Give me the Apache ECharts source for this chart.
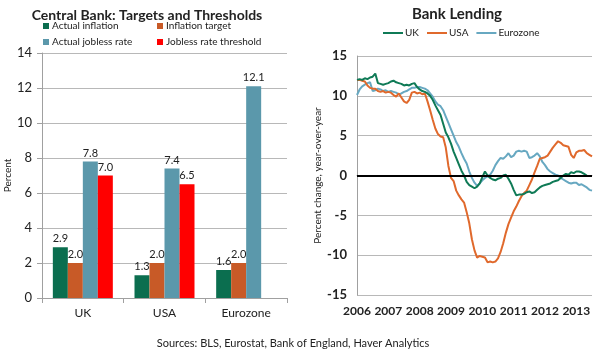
<!DOCTYPE html>
<html><head><meta charset="utf-8">
<script src="https://cdn.jsdelivr.net/npm/echarts@6/dist/echarts.min.js"></script>
<style>html,body{margin:0;padding:0;background:#fff}#c{width:600px;height:350px}</style>
</head><body><div id="c"></div>
<script>
var barCategories = ['UK', 'USA', 'Eurozone'];
var actualInflation = [2.9, 1.3, 1.6];
var inflationTarget = [2.0, 2.0, 2.0];
var actualJobless = [7.8, 7.4, 12.1];
var joblessThreshold = [7.0, 6.5, null];

var yearLabels = ['2006','2007','2008','2009','2010','2011','2012','2013'];
var months = [];
yearLabels.forEach(function(y){ for (var m=1;m<=12;m++){ months.push(y + '-' + (m<10?'0':'') + m); } });
months = months.slice(0, 91);

var ukLending = [12.0,12.1,12.0,12.2,12.1,12.3,12.4,12.8,11.6,11.5,11.4,11.5,
  11.6,11.8,11.9,11.7,11.6,11.5,11.3,11.4,11.3,11.5,11.6,11.1,
  10.8,10.6,10.5,10.3,10.0,9.5,8.8,8.2,7.6,6.5,5.4,4.8,
  4.0,3.0,2.2,1.4,0.6,0.0,-0.8,-1.2,-1.4,-1.6,-1.4,-1.0,
  -0.2,0.5,0.0,-0.3,-0.5,-0.6,-0.4,-0.3,0.0,0.1,-0.4,-1.0,
  -1.8,-2.5,-2.4,-2.4,-2.3,-2.1,-2.0,-2.2,-2.1,-1.8,-1.5,-1.3,
  -1.2,-1.1,-1.0,-0.8,-0.7,-0.6,-0.3,0.0,0.2,0.1,0.4,0.3,
  0.5,0.5,0.4,0.2,0.0];
var usaLending = [12.0,12.0,11.9,11.8,11.3,11.0,10.9,10.9,10.6,10.5,10.6,10.4,
  10.5,10.4,10.1,9.9,10.3,9.8,9.3,9.1,9.5,10.4,10.5,10.3,
  10.4,10.2,10.3,9.3,8.2,7.0,5.9,5.2,4.9,4.8,3.5,1.2,
  -0.3,-0.7,-1.9,-2.5,-3.0,-3.4,-4.6,-6.0,-8.0,-9.4,-10.3,-10.1,
  -10.2,-10.3,-10.9,-10.8,-10.9,-10.8,-10.4,-9.6,-8.5,-7.2,-6.1,-5.3,
  -4.5,-3.9,-3.2,-2.6,-2.2,-1.9,-1.2,-0.5,0.4,1.2,2.1,2.2,
  2.3,2.5,3.0,3.5,3.9,4.3,4.1,3.8,3.7,3.6,2.6,2.2,
  2.9,3.1,3.1,3.2,2.8,2.6,2.4];
var euroLending = [10.1,10.8,11.2,11.4,11.6,11.7,10.6,10.7,10.9,10.8,10.6,10.7,
  10.5,10.6,10.5,10.4,10.2,10.3,10.5,10.6,10.8,11.0,11.0,11.1,
  11.1,11.0,10.9,10.7,10.3,9.9,9.3,8.9,8.7,8.2,7.4,6.6,
  5.8,5.0,4.2,3.6,2.8,2.1,1.5,0.5,-0.3,-0.9,-1.3,-1.0,
  -0.6,-0.3,-0.1,0.1,0.6,1.3,1.8,2.2,2.1,2.4,2.8,2.3,
  2.5,3.0,3.1,3.0,3.1,3.0,2.2,2.3,2.5,2.8,2.4,1.7,
  1.3,0.8,0.5,0.3,0.1,0.0,-0.3,-0.5,-0.7,-0.9,-1.0,-0.9,
  -0.9,-1.2,-1.1,-1.3,-1.5,-1.8,-1.9];

var FONT = 'Lato, "Open Sans", sans-serif';
var TXT = '#222';
var C = { green:'#0b6e4f', orange:'#c85a27', blue:'#5b98ab', red:'#ff0000',
          lgreen:'#0f7a56', lorange:'#e0692c', lblue:'#67a8c1' };

var chart = echarts.init(document.getElementById('c'), null, {renderer:'canvas'});
function legendAt(name, left, top){
  return { data:[name], left:left, top:top, itemWidth:6, itemHeight:6, icon:'rect',
    textStyle:{fontFamily:FONT, fontSize:10, color:TXT, padding:[0,0,0,-2]}, padding:0, itemGap:4 };
}
function barLabel(){ return { show:true, position:'top', distance:3, fontFamily:FONT, fontSize:11, color:TXT,
  formatter:function(p){ return p.value==null?'':p.value.toFixed(1); } }; }

chart.setOption({
  animation:false,
  textStyle:{fontFamily:FONT},
  title:[
    {text:'Central Bank: Targets and Thresholds', left:142, top:3, textAlign:'center',
     textStyle:{fontFamily:FONT, fontSize:14, fontWeight:'bold', color:TXT}},
    {text:'Bank Lending', left:452, top:2, textAlign:'center',
     textStyle:{fontFamily:FONT, fontSize:15, fontWeight:'bold', color:TXT}},
    {text:'Sources: BLS, Eurostat, Bank of England, Haver Analytics', left:288, top:333, textAlign:'center',
     textStyle:{fontFamily:FONT, fontSize:11, fontWeight:'normal', color:TXT}}
  ],
  legend:[
    legendAt('Actual inflation', 43, 21),
    legendAt('Inflation target', 157, 21),
    legendAt('Actual jobless rate', 43, 37),
    legendAt('Jobless rate threshold', 157, 37),
    { data:['UK','USA','Eurozone'], left:383, top:28,
      icon:'rect', itemWidth:20, itemHeight:2, itemGap:8, padding:0,
      textStyle:{fontFamily:FONT, fontSize:10, color:TXT, padding:[0,0,0,-3]} }
  ],
  grid:[
    {left:42, top:53, width:245, height:245},
    {left:357, top:56, width:235, height:239}
  ],
  xAxis:[
    {gridIndex:0, type:'category', data:barCategories,
     axisLine:{lineStyle:{color:'#a0a0a0'}},
     axisTick:{show:true, alignWithLabel:false, length:5, lineStyle:{color:'#a0a0a0'}},
     axisLabel:{fontFamily:FONT, fontSize:12, color:TXT, margin:9}},
    {gridIndex:1, type:'category', data:months, boundaryGap:false,
     axisLine:{lineStyle:{color:'#a0a0a0'}},
     axisTick:{show:false},
     axisLabel:{fontFamily:FONT, fontSize:12, fontWeight:'bold', color:TXT, margin:10,
       interval:function(i){ return i % 12 === 0; },
       formatter:function(v){ return v.slice(0,4); }}}
  ],
  yAxis:[
    {gridIndex:0, type:'value', min:0, max:14, interval:2,
     name:'Percent', nameLocation:'middle', nameGap:28, nameRotate:90,
     nameTextStyle:{fontFamily:FONT, fontSize:10, color:TXT},
     axisLine:{show:true, lineStyle:{color:'#a0a0a0'}},
     axisTick:{show:true, length:5, lineStyle:{color:'#a0a0a0'}},
     splitLine:{lineStyle:{color:'#b8b8b8'}},
     axisLabel:{fontFamily:FONT, fontSize:13, color:TXT, margin:10}},
    {gridIndex:1, type:'value', min:-15, max:15, interval:5,
     name:'Percent change, year-over-year', nameLocation:'middle', nameGap:34, nameRotate:90,
     nameTextStyle:{fontFamily:FONT, fontSize:10, color:TXT},
     axisLine:{show:true, lineStyle:{color:'#a0a0a0'}},
     axisTick:{show:false},
     splitLine:{lineStyle:{color:'#b8b8b8'}},
     axisLabel:{fontFamily:FONT, fontSize:13, fontWeight:'bold', color:TXT, margin:10}}
  ],
  series:[
    {name:'Actual inflation', type:'bar', xAxisIndex:0, yAxisIndex:0, data:actualInflation,
     barWidth:15, barGap:'0%', itemStyle:{color:C.green}, label:barLabel()},
    {name:'Inflation target', type:'bar', xAxisIndex:0, yAxisIndex:0, data:inflationTarget,
     barWidth:15, barGap:'0%', itemStyle:{color:C.orange}, label:barLabel()},
    {name:'Actual jobless rate', type:'bar', xAxisIndex:0, yAxisIndex:0, data:actualJobless,
     barWidth:15, barGap:'0%', itemStyle:{color:C.blue}, label:barLabel()},
    {name:'Jobless rate threshold', type:'bar', xAxisIndex:0, yAxisIndex:0, data:joblessThreshold,
     barWidth:15, barGap:'0%', itemStyle:{color:C.red}, label:barLabel()},
    {name:'UK', type:'line', xAxisIndex:1, yAxisIndex:1, data:ukLending, showSymbol:false, symbol:'none',
     lineStyle:{color:C.lgreen, width:2}, itemStyle:{color:C.lgreen}, z:4,
     markLine:{silent:true, symbol:'none', label:{show:false},
       lineStyle:{color:'#000', width:2, type:'solid'}, data:[{yAxis:0}]}},
    {name:'USA', type:'line', xAxisIndex:1, yAxisIndex:1, data:usaLending, showSymbol:false, symbol:'none',
     lineStyle:{color:C.lorange, width:2}, itemStyle:{color:C.lorange}, z:3},
    {name:'Eurozone', type:'line', xAxisIndex:1, yAxisIndex:1, data:euroLending, showSymbol:false, symbol:'none',
     lineStyle:{color:C.lblue, width:2}, itemStyle:{color:C.lblue}, z:2}
  ]
});
</script></body></html>
